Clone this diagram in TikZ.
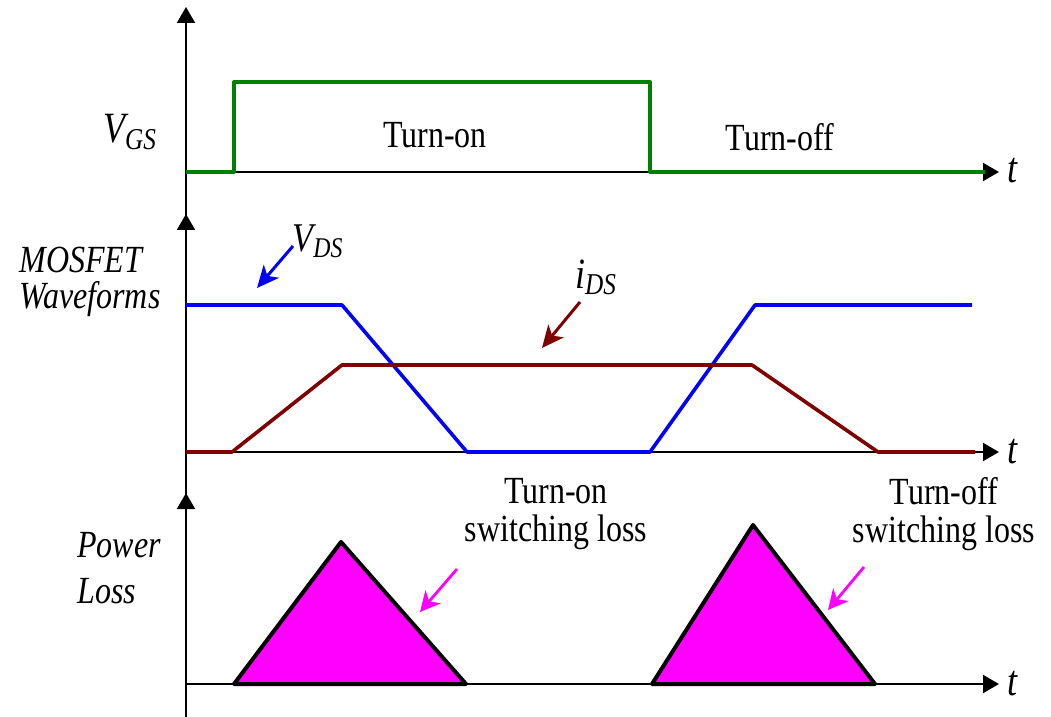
\documentclass[tikz,border=0pt]{standalone}
\usepackage{fontspec}
\setmainfont{Liberation Serif}
\usepackage{graphicx}
\usepackage{tikz}
\usetikzlibrary{arrows.meta}

\definecolor{gsgreen}{RGB}{0,128,0}
\definecolor{idsred}{RGB}{128,0,0}
\definecolor{vdsblue}{RGB}{0,0,255}
\definecolor{lossmag}{RGB}{255,0,255}

\newcommand{\tallTxt}[1]{\scalebox{1}[1.2]{#1}}

\begin{document}
\begin{tikzpicture}[
    x=0.5pt, y=-0.5pt,
    axis/.style={-{Triangle[length=8pt,width=9pt]}, line width=1pt, black},
    txt/.style={inner sep=0pt, font=\fontsize{16}{19}\selectfont},
    itxt/.style={txt, font=\fontsize{16}{18}\selectfont\itshape, align=left},
    tlbl/.style={inner sep=0pt, anchor=base, font=\fontsize{18}{20}\selectfont\itshape},
    wave/.style={line width=1.8pt, line join=round},
    pointer/.style={-{Stealth[length=11pt,width=10pt,inset=3pt]}, line width=1.5pt},
    losspointer/.style={-{Stealth[length=10pt,width=10pt,inset=3pt]}, line width=1.4pt, lossmag},
    lossarea/.style={fill=lossmag, draw=black, line width=2pt, line join=round},
]
\useasboundingbox (0,0) rectangle (1051,717);

% Axis origins and tips
\coordinate (o1) at (186,172);
\coordinate (o2) at (186,452);
\coordinate (o3) at (186,684);
\coordinate (y1end) at (186,225);
\coordinate (y2end) at (186,500);
\coordinate (y3end) at (186,717);
\coordinate (y1tip) at (186,7);
\coordinate (y2tip) at (186,214);
\coordinate (y3tip) at (186,493);
\coordinate (x1tip) at (999,172);
\coordinate (x2tip) at (999,452);
\coordinate (x3tip) at (999,684);

% Axes
\draw[axis] (y1end) -- (y1tip);
\draw[axis] (y2end) -- (y2tip);
\draw[axis] (y3end) -- (y3tip);
\draw[axis] (o1) -- (x1tip);
\draw[axis] (o2) -- (x2tip);
\draw[axis] (o3) -- (x3tip);
\node[tlbl] (t1) at (1012,183) {\tallTxt{t}};
\node[tlbl] (t2) at (1012,463) {\tallTxt{t}};
\node[tlbl] (t3) at (1012,695) {\tallTxt{t}};

% Gate signal
\draw[wave, gsgreen, line width=2pt] (186,172) -- (234,172) -- (234,82) -- (650,82) -- (650,172) -- (985,172);
\node[txt, anchor=base, font=\fontsize{18}{20}\selectfont\itshape] (vgs) at (130,143) {\tallTxt{V\textsubscript{GS}}};
\node[txt, anchor=base] (ton) at (435,148) {\tallTxt{Turn-on}};
\node[txt, anchor=base] (toff) at (780,151) {\tallTxt{Turn-off}};

% MOSFET waveforms
\draw[wave, vdsblue] (186,305) -- (342,305) -- (467,452) -- (650,452) -- (755,305) -- (972,305);
\draw[wave, idsred] (186,452) -- (232,452) -- (342,365) -- (752,365) -- (878,452) -- (975,452);
\node[itxt, anchor=north west] (mosfet) at (19,247) {\tallTxt{MOSFET}\\\tallTxt{Waveforms}};
\node[tlbl, font=\fontsize{17}{19}\selectfont\itshape] (vds) at (318,251) {\tallTxt{V\textsubscript{DS}}};
\node[tlbl] (ids) at (596,288) {\tallTxt{i\textsubscript{DS}}};
\coordinate (vdsfrom) at (293,246);
\coordinate (vdsto) at (257,288);
\coordinate (idsfrom) at (580,302);
\coordinate (idsto) at (542,348);
\draw[pointer, vdsblue] (vdsfrom) -- (vdsto);
\draw[pointer, idsred] (idsfrom) -- (idsto);

% Power loss
\draw[lossarea] (234,684) -- (341,542) -- (466,684) -- cycle;
\draw[lossarea] (652,684) -- (753,525) -- (875,684) -- cycle;
\node[itxt, anchor=north west, font=\fontsize{16}{23}\selectfont\itshape] (ploss) at (77,532) {\tallTxt{Power}\\\tallTxt{Loss}};
\node[txt, anchor=north, align=center] (onloss) at (556,478) {\tallTxt{Turn-on}\\\tallTxt{switching loss}};
\node[txt, anchor=north, align=center] (offloss) at (944,477) {\tallTxt{Turn-off}\\\tallTxt{switching loss}};
\coordinate (onfrom) at (457,569);
\coordinate (onto) at (420,612);
\coordinate (offfrom) at (864,567);
\coordinate (offto) at (828,610);
\draw[losspointer] (onfrom) -- (onto);
\draw[losspointer] (offfrom) -- (offto);

\end{tikzpicture}
\end{document}
